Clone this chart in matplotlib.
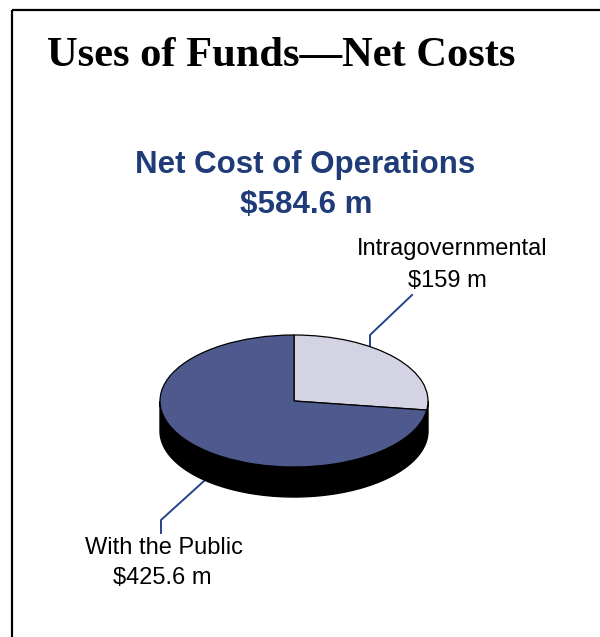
import numpy as np
import matplotlib.pyplot as plt

# data
labels = ['Intragovernmental', 'With the Public']
values = [159.0, 425.6]
value_text = [r'\$159 m', r'\$425.6 m']
colors = ['#d3d3e3', '#4e5a8e']
total_text = r'\$584.6 m'

W, H = 600, 637
fig = plt.figure(figsize=(W / 100, H / 100), dpi=100)

# background axes in pixel units for frame, text and leader lines
bg = fig.add_axes([0, 0, 1, 1])
bg.set_xlim(0, W)
bg.set_ylim(H, 0)
bg.axis('off')

# frame (top and left only)
bg.plot([12, W], [10, 10], color='black', lw=1.6, solid_capstyle='butt')
bg.plot([12, 12], [10, H], color='black', lw=1.6, solid_capstyle='butt')

bg.text(47, 66, 'Uses of Funds\u2014Net Costs', family='Liberation Serif',
        weight='bold', size=30.6, va='baseline')
blue = '#1f3c78'
bg.text(305, 173, 'Net Cost of Operations', family='Liberation Sans',
        weight='bold', size=22.5, color=blue, ha='center', va='baseline')
bg.text(306, 213, total_text, family='Liberation Sans',
        weight='bold', size=22.5, color=blue, ha='center', va='baseline')

# 3d-looking pie: top face ellipse + black side
cx, cy, rx, ry, depth = 294, 401, 134, 66, 30
pax = fig.add_axes([(cx - rx) / W, (H - cy - ry) / H, 2 * rx / W, 2 * ry / H])
wedges, _ = pax.pie(values, colors=colors, startangle=90, counterclock=False,
                    wedgeprops=dict(edgecolor='black', linewidth=0.9))
pax.set_aspect('auto')
pax.set_xlim(-1, 1)
pax.set_ylim(-1, 1)
pax.axis('off')
for w in wedges:
    w.set_clip_on(False)

d = depth / ry
t = np.linspace(np.pi, 2 * np.pi, 200)
xs = np.concatenate([np.cos(t), np.cos(t[::-1])])
ys = np.concatenate([np.sin(t), np.sin(t[::-1]) - d])
pax.fill(xs, ys, color='black', zorder=0, clip_on=False)

# labels with leader lines
lead = '#24438a'
bg.plot([412, 370, 370], [295, 335, 347], color=lead, lw=1.4)
bg.plot([204, 161, 161], [481, 520, 533], color=lead, lw=1.4)

bg.text(452, 255, labels[0], family='Liberation Sans', size=17,
        ha='center', va='baseline')
bg.text(447, 287, value_text[0], family='Liberation Sans', size=17,
        ha='center', va='baseline')
bg.text(164, 554, labels[1], family='Liberation Sans', size=17,
        ha='center', va='baseline')
bg.text(162, 584, value_text[1], family='Liberation Sans', size=17,
        ha='center', va='baseline')

fig.savefig('out.png', dpi=100)
